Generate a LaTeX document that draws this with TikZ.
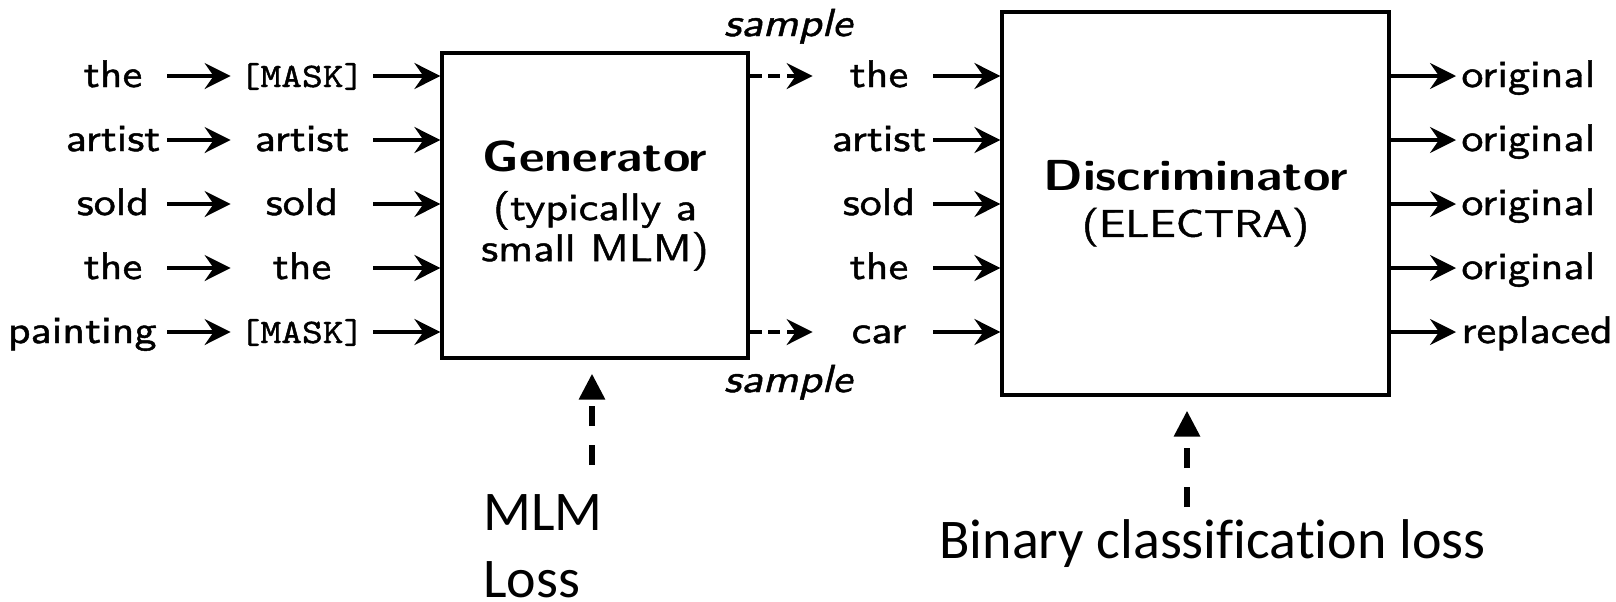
\documentclass[tikz,border=0pt]{standalone}
\usepackage{fontspec}
\usetikzlibrary{arrows.meta}
% Sans and mono faces of the figure, slightly widened and thickened
\newfontfamily\figsf{lmsans10-regular.otf}[ItalicFont=lmsans10-oblique.otf,FakeStretch=1.15,FakeBold=1.2]
\newfontfamily\figsfbf{lmsans10-bold.otf}[FakeStretch=1.15]
\newfontfamily\figtt{lmmono10-regular.otf}[FakeStretch=1.15,FakeBold=1.2]
\newfontfamily\slidefont{Carlito}[Ligatures=NoCommon]
\newcommand\maskword{{\fontsize{17.2}{19}\figtt [MASK]}}

\begin{document}
\begin{tikzpicture}[x=0.5pt,y=-0.5pt,
  wordfont/.style={font=\fontsize{19.2}{22}\figsf},
  word/.style={wordfont, inner sep=0pt, text height=14pt, text depth=3pt, minimum width=54pt},
  midword/.style={word, minimum width=71pt},
  outword/.style={word, minimum width=0pt, inner xsep=2.5pt, anchor=west},
  block/.style={draw, line width=1.6pt, inner sep=0pt, align=center, font=\fontsize{19.2}{20.5}\figsf},
  flow/.style={line width=1.6pt, -{Stealth[length=13pt,width=13pt,inset=4.5pt]}},
  sampled/.style={flow, dash pattern=on 6pt off 3.4pt, shorten >=6pt},
  samplelabel/.style={font=\fontsize{19.5}{22}\figsf\itshape, inner sep=0pt, anchor=base},
  loss/.style={line width=3pt, dash pattern=on 10pt off 9.5pt, -{Triangle[length=13pt,width=12.5pt]}, shorten >=7pt},
  losslabel/.style={font=\fontsize{28}{33.5}\slidefont, inner sep=0pt, align=left}
]
\useasboundingbox (0,0) rectangle (1616,601);

% input tokens
\node[word] (a1) at (113,76) {the};
\node[word] (a2) at (113,140) {artist};
\node[word] (a3) at (113,204) {sold};
\node[word] (a4) at (113,268) {the};
\node[word, anchor=east, minimum width=0pt, inner xsep=5pt] (a5) at (167,332) {painting};

% masked tokens
\node[midword] (b1) at (302,76) {\maskword};
\node[midword] (b2) at (302,140) {artist};
\node[midword] (b3) at (302,204) {sold};
\node[midword] (b4) at (302,268) {the};
\node[midword] (b5) at (302,332) {\maskword};

% generator
\node[block, minimum width=153pt, minimum height=152.5pt] (gen) at (595,205.5)
  {{\fontsize{21.7}{22}\figsfbf Generator}\\[4pt](typically a\\small MLM)};

% corrupted tokens
\node[word] (c1) at (879,76) {the};
\node[word] (c2) at (879,140) {artist};
\node[word] (c3) at (879,204) {sold};
\node[word] (c4) at (879,268) {the};
\node[word] (c5) at (879,332) {car};

% discriminator
\node[block, minimum width=193.5pt, minimum height=191.5pt] (disc) at (1195.5,203.5)
  {{\fontsize{21.7}{22}\figsfbf Discriminator}\\[2.5pt](ELECTRA)};

% predictions
\node[outword] (d1) at (1456,76) {original};
\node[outword] (d2) at (1456,140) {original};
\node[outword] (d3) at (1456,204) {original};
\node[outword] (d4) at (1456,268) {original};
\node[outword] (d5) at (1456,332) {replaced};

\node[samplelabel] (s1) at (788,36) {sample};
\node[samplelabel] (s2) at (788,392) {sample};

% losses
\node[losslabel, anchor=north west] (mlm) at (483,494) {MLM\\Loss};
\node[losslabel, anchor=base west] (bce) at (939,558) {Binary classification loss};
\coordinate (mlmtail) at (592,465);
\coordinate (bcetail) at (1187,507);

\foreach \i in {1,...,5} {
  \draw[flow] (a\i) -- (b\i);
  \draw[flow] (b\i) -- (gen.west |- b\i);
  \draw[flow] (c\i) -- (disc.west |- c\i);
  \draw[flow] (disc.east |- d\i) -- (d\i);
}
\draw[sampled] (gen.east |- c1) -- (c1);
\draw[sampled] (gen.east |- c5) -- (c5);

\draw[loss] (mlmtail) -- (mlmtail |- gen.south);
\draw[loss] (bcetail) -- (bcetail |- disc.south);
\end{tikzpicture}
\end{document}
